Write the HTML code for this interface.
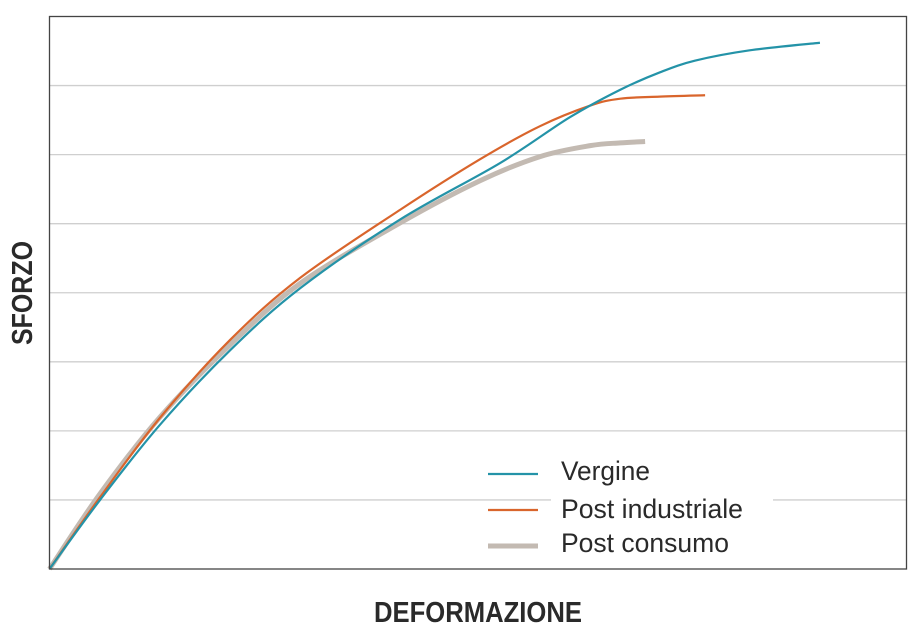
<!DOCTYPE html>
<html><head><meta charset="utf-8"><style>
body{margin:0;background:#fff;}
svg{display:block;font-family:"Liberation Sans",sans-serif;}
</style></head><body>
<svg id="chart" width="920" height="637" viewBox="0 0 920 637">
<rect x="0" y="0" width="920" height="637" fill="#fff"/>
<g id="grid"></g>
<g id="series"></g>
<rect x="49.5" y="16.5" width="857" height="552.5" fill="none" stroke="#444" stroke-width="1.3"/>
<g>
<rect x="551" y="450" width="222" height="110" fill="#fff"/>
<g>
<line x1="488" y1="474" x2="538" y2="474" stroke="#2493a8" stroke-width="2.2"/>
<text x="561" y="480" font-size="27" fill="#2a2a2a" textLength="89" lengthAdjust="spacingAndGlyphs">Vergine</text></g>
<g>
<line x1="488" y1="510" x2="538" y2="510" stroke="#d9652c" stroke-width="2.2"/>
<text x="561" y="518" font-size="27" fill="#2a2a2a" textLength="182" lengthAdjust="spacingAndGlyphs">Post industriale</text></g>
<g>
<line x1="488" y1="546" x2="538" y2="546" stroke="#c3bab2" stroke-width="5"/>
<text x="561" y="552" font-size="27" fill="#2a2a2a" textLength="168" lengthAdjust="spacingAndGlyphs">Post consumo</text></g>
</g>
<text x="478" y="622" text-anchor="middle" font-size="29" font-weight="bold" fill="#2a2a2a" textLength="208" lengthAdjust="spacingAndGlyphs">DEFORMAZIONE</text>
<text transform="translate(32,293) rotate(-90)" text-anchor="middle" font-size="29" font-weight="bold" fill="#2a2a2a" textLength="104" lengthAdjust="spacingAndGlyphs">SFORZO</text>
</svg>
<script>
const gridValues=[1,2,3,4,5,6,7];
const vergineX=[0,5.9,12.9,21.1,29.3,40.9,52.6,60.7,66.6,71.2,75.3,81.7,89.9];
const vergineY=[0,1.00,2.09,3.17,4.07,5.06,5.88,6.54,6.94,7.19,7.36,7.51,7.62];
const industrialeX=[0,5.9,12.9,21.1,29.3,40.9,50.2,57.2,63.1,66.6,71.2,76.5];
const industrialeY=[0,1.04,2.19,3.32,4.22,5.20,5.93,6.41,6.71,6.81,6.84,6.86];
const consumoX=[0,5.9,12.9,21.1,29.3,40.9,50.2,57.2,63.1,66.6,69.5];
const consumoY=[0,1.09,2.20,3.25,4.14,5.01,5.62,5.97,6.13,6.17,6.19];
const L=49.5,R=906.5,T=16.5,B=569;
function sx(v){return L+v/100*(R-L);}
function sy(v){return B-v/8*(B-T);}
const NS="http://www.w3.org/2000/svg";
const grid=document.getElementById('grid');
gridValues.forEach(v=>{
 const l=document.createElementNS(NS,'line');
 l.setAttribute('x1',L);l.setAttribute('x2',R);l.setAttribute('y1',sy(v));l.setAttribute('y2',sy(v));
 l.setAttribute('stroke','#cfcfcf');l.setAttribute('stroke-width','1.3');
 
 
 grid.appendChild(l);
});
function pathFrom(xs,ys){
 const p=xs.map((x,i)=>[sx(x),sy(ys[i])]);
 let d='M'+p[0][0]+','+p[0][1];
 for(let i=0;i<p.length-1;i++){
  const p0=p[Math.max(0,i-1)],p1=p[i],p2=p[i+1],p3=p[Math.min(p.length-1,i+2)];
  const c1=[p1[0]+(p2[0]-p0[0])/6,p1[1]+(p2[1]-p0[1])/6];
  const c2=[p2[0]-(p3[0]-p1[0])/6,p2[1]-(p3[1]-p1[1])/6];
  d+=' C'+c1+' '+c2+' '+p2;
 }
 return d;
}
const series=document.getElementById('series');
function addLine(xs,ys,color,w,name){
 const e=document.createElementNS(NS,'path');
 e.setAttribute('d',pathFrom(xs,ys));
 e.setAttribute('fill','none');e.setAttribute('stroke',color);e.setAttribute('stroke-width',w);
 e.setAttribute('stroke-linecap','butt');
 
 
 series.appendChild(e);
}
addLine(consumoX,consumoY,'#c3bab2',5,'line-post-consumo');
addLine(industrialeX,industrialeY,'#d9652c',2.2,'line-post-industriale');
addLine(vergineX,vergineY,'#2493a8',2.2,'line-vergine');
</script>
</body></html>
